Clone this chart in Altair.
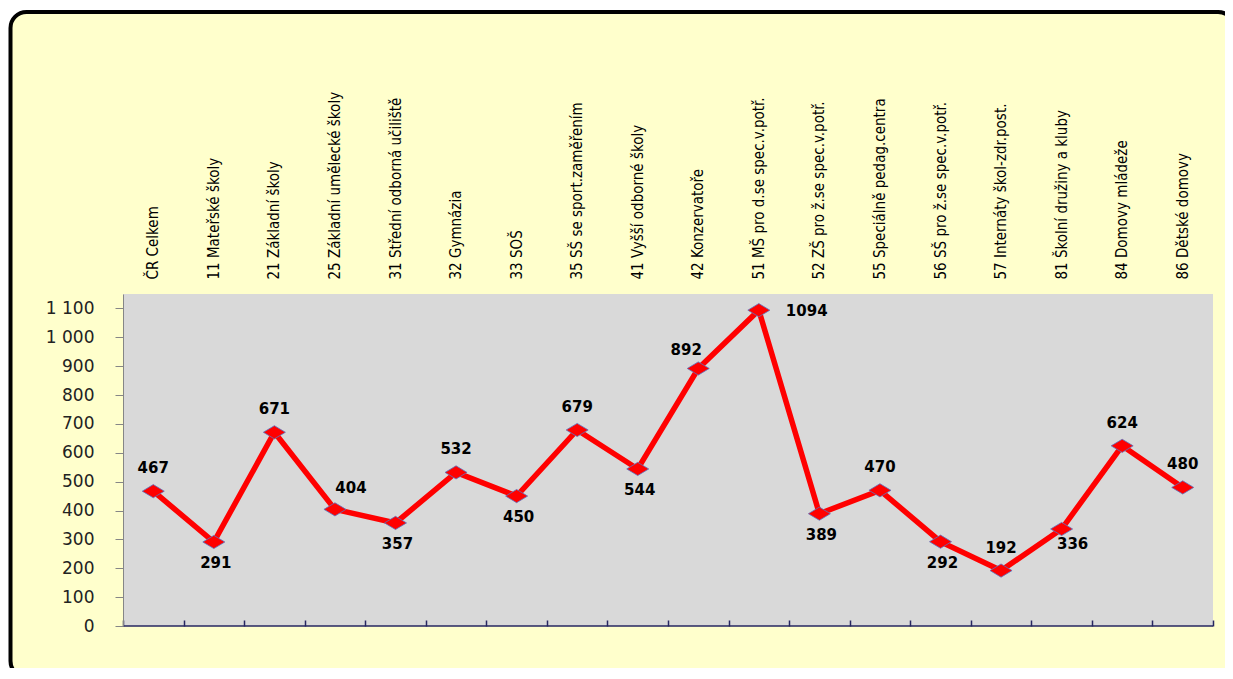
import altair as alt
import pandas as pd

categories = [
    "ČR Celkem", "11 Mateřské školy", "21 Základní školy",
    "25 Základní umělecké školy", "31 Střední odborná učiliště", "32 Gymnázia",
    "33 SOŠ", "35 SŠ se sport.zaměřením", "41 Vyšší odborné školy",
    "42 Konzervatoře", "51 MŠ pro d.se spec.v.potř.", "52 ZŠ pro ž.se spec.v.potř.",
    "55 Speciálně pedag.centra", "56 SŠ pro ž.se spec.v.potř.",
    "57 Internáty škol-zdr.post.", "81 Školní družiny a kluby",
    "84 Domovy mládeže", "86 Dětské domovy",
]
values = [467, 291, 671, 404, 357, 532, 450, 679, 544, 892, 1094, 389, 470, 292, 192, 336, 624, 480]
label_side = ["above", "below", "above", "above-right", "below", "above", "below", "above",
              "below", "above-left", "right", "below", "above", "below", "above",
              "below-right", "above", "above"]
y_ticks = [0, 100, 200, 300, 400, 500, 600, 700, 800, 900, 1000, 1100]
y_max = 1150

df = pd.DataFrame({"category": categories, "value": values, "side": label_side})
one = pd.DataFrame({"k": [0]})

W, H = 1090, 332

xscale = alt.Scale(type="band", domain=categories, paddingInner=0, paddingOuter=0)
yaxis = alt.Axis(values=y_ticks, title=None, grid=False, domain=True, domainColor="#868686",
                 domainWidth=1, ticks=True, tickColor="#868686", tickSize=8,
                 labelFont="DejaVu Sans", labelFontSize=17, labelColor="#222222",
                 labelPadding=21,
                 labelExpr="replace(format(datum.value, ','), ',', ' ')", zindex=1)
Y = alt.Y("value:Q", scale=alt.Scale(domain=[0, y_max], nice=False, zero=True), axis=yaxis)

frame = alt.Chart(one).mark_rect(fill="#FFFFCC", stroke="#000000", strokeWidth=4,
                                 cornerRadius=16).encode(
    x=alt.value(-112.5), x2=alt.value(1111), y=alt.value(-282), y2=alt.value(383))

plot_bg = alt.Chart(one).mark_rect(fill="#D9D9D9").encode(
    x=alt.value(0), x2=alt.value(W), y=alt.value(0), y2=alt.value(H))

base_rule = alt.Chart(one).mark_rule(color="#262660", strokeWidth=1.5).encode(
    x=alt.value(0), x2=alt.value(W), y=alt.value(H))

top_axis = alt.Axis(orient="top", title=None, domain=False, ticks=False, labelAngle=-90,
                    labelAlign="left", labelBaseline="middle", labelPadding=15,
                    labelFont="Liberation Sans Narrow, DejaVu Sans Condensed, Liberation Sans, sans-serif",
                    labelFontSize=15,
                    labelColor="#000000", labelLimit=0, zindex=1)
bottom_axis = alt.Axis(orient="bottom", title=None, domain=False, labels=False, ticks=True,
                       tickBand="extent", tickSize=6, offset=-6, tickColor="#262660",
                       tickWidth=1.5, zindex=1)

line = alt.Chart(df).mark_line(color="#FF0000", strokeWidth=5.5).encode(
    x=alt.X("category:N", sort=categories, scale=xscale, bandPosition=0.5, axis=top_axis),
    y=Y)

points = alt.Chart(df).mark_point(
    shape="M -1 0 L 0 -0.6 L 1 0 L 0 0.6 Z", size=484, filled=True, fill="#FF0000",
    stroke="#5B72C0", strokeWidth=0.8, opacity=1).encode(
    x=alt.X("category:N", sort=categories, scale=xscale, bandPosition=0.5, axis=bottom_axis),
    y=Y)

offsets = {
    "above": dict(dx=0, dy=-23, align="center"),
    "below": dict(dx=2, dy=21, align="center"),
    "above-right": dict(dx=16, dy=-21, align="center"),
    "above-left": dict(dx=-12, dy=-18, align="center"),
    "below-right": dict(dx=11, dy=15, align="center"),
    "right": dict(dx=27, dy=1, align="left"),
}

texts = []
for side, o in offsets.items():
    texts.append(
        alt.Chart(df).transform_filter(alt.datum.side == side).mark_text(
            font="DejaVu Sans", fontSize=15, fontWeight="bold", color="#000000",
            baseline="middle", **o).encode(
            x=alt.X("category:N", sort=categories, scale=xscale, bandPosition=0.5, axis=None),
            y=Y, text=alt.Text("value:Q", format="d")))

chart = alt.layer(frame, plot_bg, base_rule, line, points, *texts).resolve_axis(
    x="independent").properties(
    width=W, height=H,
    autosize=alt.AutoSizeParams(type="none"),
    padding={"left": 115, "top": 286, "right": 12, "bottom": 42},
    background="#FFFFFF",
).configure_view(stroke=None, fill=None)

chart.save("out.html", embed_options={"renderer": "svg", "actions": False})
